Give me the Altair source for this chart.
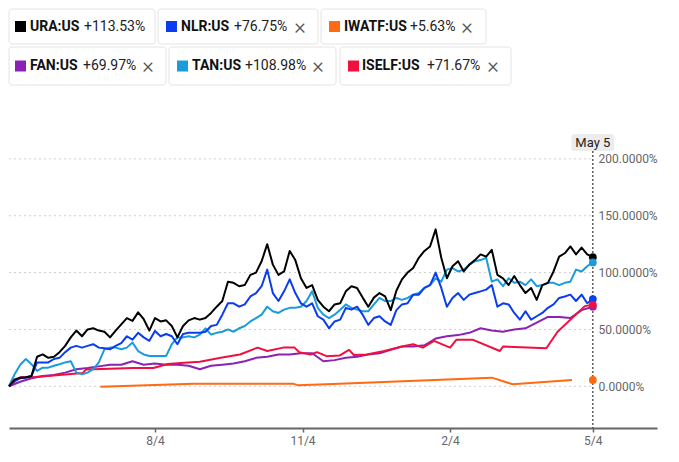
import altair as alt
import pandas as pd

START = "2020-05-05"
END = "2021-05-04"
AXIS_END = "2021-06-13"

# ---- data (percent change since start) ----
# sampling grids: every 3.5 days (volatile funds) and every 7 days (FAN)
half_week_dates = pd.date_range(START, periods=105, freq="84h").strftime("%Y-%m-%dT%H:%M:%SZ").tolist()
week_dates = pd.date_range(START, END, freq="7D").strftime("%Y-%m-%d").tolist()

ura = [0, 6, 7.6, 8, 9, 26, 28, 25, 26, 30, 35.5, 43, 49, 44, 50, 51, 49, 48, 43, 49,
       54.5, 60, 57.5, 65, 59, 49, 60, 57, 58, 53, 43, 53, 58, 60,
       58.6, 60, 64.5, 70, 75, 92, 91, 88, 89, 98, 100, 110, 125, 107, 98, 101, 119, 111,
       95, 86.5, 89, 76, 70, 66, 72, 73, 83.5, 88, 86.5, 78, 70, 78, 82, 79, 67, 84,
       94, 100, 104, 113, 119, 123, 138, 113, 95, 105.6, 110, 101, 107, 111, 116, 114, 120,
       98, 95, 89, 97, 89, 82, 86.5, 76, 89, 91, 101, 114, 117, 123, 116, 122, 116, 113.53]
nlr = [0, 4.7, 7, 7.6, 9, 21, 21, 21, 24, 25, 30, 34, 35.5, 34, 35.5, 37, 34, 33.4, 32.5, 35.5,
       38, 44, 41, 47, 43, 40, 48.7, 44, 46, 44, 37, 46, 47, 47,
       47, 48, 53, 54, 63, 73, 73, 70, 72, 79, 82, 88, 102.6, 82, 75, 83.5, 94, 82,
       73, 70, 73, 61.6, 58.6, 51, 57, 58.6, 69, 67.4, 70, 63, 54, 60, 61.6, 57, 54, 67,
       72, 73, 80.6, 80.6, 86.5, 89, 100, 86.5, 70, 77.7, 82, 76, 80.6, 82, 83.5, 85, 89,
       70, 73, 72, 64.5, 58.6, 66, 58.6, 61.6, 64.5, 69, 72, 77.7, 79, 80.6, 75, 80.6, 73, 76.75]
tan = [0, 10.6, 19, 24, 19.4, 13.5, 16.4, 16.4, 18, 19.4, 21, 22, 12, 10.6, 12, 15, 21, 32.5, 34, 34,
       32.5, 34, 38.4, 31, 28, 26.7, 26.7, 26.7, 26.7, 37, 43, 43, 44, 43,
       45.5, 51, 45.5, 47, 48, 50, 48, 51, 53, 57, 60, 63, 70, 66, 64.5, 67.4, 69, 69,
       70, 75, 83.5, 69, 63, 60, 63, 67.4, 72, 69, 67.4, 66, 66, 72, 77.7, 75, 75, 77.7,
       76, 77.7, 80.6, 82, 86.5, 89, 95, 92, 102.6, 104, 101, 102.6, 107, 110, 111, 113, 92,
       94, 88, 95, 91, 92, 89, 94, 88, 89, 91, 91, 89, 91, 92, 102.6, 101, 105.6, 108.98]
fan = [0, 4, 7, 9, 10, 12, 15, 16, 17.5, 19, 19, 22, 19, 20, 19, 19, 18, 15, 18, 19,
       20, 22, 25, 26, 28, 28, 29, 29, 22, 23, 25, 26, 28, 29, 32, 35, 35, 36, 42, 44,
       45, 47, 51, 49, 48, 50, 51, 56, 61, 61, 60, 67, 69.97]

iself_dates = ["2020-05-05", "2020-05-12", "2020-05-20", "2020-06-20", "2020-06-22",
               "2020-07-21", "2020-08-03", "2020-08-12", "2020-08-20", "2020-09-01",
               "2020-09-14", "2020-09-26", "2020-10-07", "2020-10-13", "2020-10-23",
               "2020-10-30", "2020-11-02", "2020-11-09", "2020-11-13", "2020-11-19",
               "2020-11-27", "2020-12-03", "2020-12-06", "2020-12-14", "2020-12-25",
               "2021-01-05", "2021-01-12", "2021-01-18", "2021-01-25", "2021-02-04",
               "2021-02-08", "2021-02-18", "2021-03-07", "2021-03-09", "2021-04-05",
               "2021-04-12", "2021-04-29", "2021-05-04"]
iself = [0, 8, 8, 11.7, 14.7, 16, 16, 19.6, 20.5, 21.5, 25, 28, 34, 31, 34, 34, 30, 28, 30,
         26.5, 27, 32, 27.5, 28, 31, 35, 37, 34, 40, 34, 41, 41, 31, 35, 33.5, 48, 70.5, 71.67]

iwatf_dates = ["2020-07-01", "2020-08-28", "2020-10-29", "2020-11-01", "2020-11-23",
               "2021-03-02", "2021-03-15", "2021-04-21"]
iwatf = [-0.5, 2.3, 2.3, 1.0, 2.0, 7.6, 1.8, 5.6]

series_names = ["URA:US", "NLR:US", "IWATF:US", "FAN:US", "TAN:US", "ISELF:US"]
series_colors = ["#000000", "#0a3cf0", "#ff6a13", "#8b22b4", "#1a9bdb", "#f0103f"]
last_values = [113.53, 76.75, 5.63, 69.97, 108.98, 71.67]
legend_changes = ["+113.53%", "+76.75%", "+5.63%", "+69.97%", "+108.98%", "+71.67%"]
legend_closable = [False, True, True, True, True, True]

grid_values = [0, 50, 100, 150, 200]
tick_dates = ["2020-08-04", "2020-11-04", "2021-02-04", "2021-05-04"]

# ---- tables ----
rows = []
for name, dates, vals in [("URA:US", half_week_dates, ura), ("NLR:US", half_week_dates, nlr),
                          ("TAN:US", half_week_dates, tan), ("FAN:US", week_dates, fan),
                          ("ISELF:US", iself_dates, iself), ("IWATF:US", iwatf_dates, iwatf)]:
    for d, v in zip(dates, vals):
        rows.append({"series": name, "date": d, "value": v})
df = pd.DataFrame(rows)

ends = pd.DataFrame({"series": series_names, "date": [END] * 6, "value": last_values})
grid = pd.DataFrame({"gy": grid_values, "gx": [START] * 5, "gx2": ["2021-05-03"] * 5})
marker = pd.DataFrame({"d": [END], "label": ["May 5"]})


def ms(s):
    return int(pd.Timestamp(s, tz="UTC").timestamp() * 1000)


W, H = 648, 299
FONT = "Roboto"

x_scale = alt.Scale(domain=[ms(START), ms(AXIS_END)])
y_scale = alt.Scale(domain=[-36.7, 226.3], nice=False, zero=False)
x_axis = alt.Axis(values=[ms(d) for d in tick_dates],
                  labelExpr="utcFormat(datum.value, '%-m/%-d')",
                  title=None, grid=False, domainColor="#666", domainWidth=2,
                  tickColor="#666", tickSize=4, tickWidth=1.5,
                  labelColor="#666", labelFont=FONT, labelFontSize=12, labelPadding=3)
y_axis = alt.Axis(orient="right", values=grid_values,
                  labelExpr="format(datum.value, '.4f') + '%'",
                  title=None, grid=False, domain=False, ticks=False, tickSize=0,
                  labelPadding=-59, labelAlign="left", labelBaseline="middle",
                  labelColor="#666", labelFont=FONT, labelFontSize=12)

gridlines = alt.Chart(grid).mark_rule(color="#cfcfcf", strokeDash=[2, 3], strokeWidth=1).encode(
    x=alt.X("gx:T", scale=x_scale, axis=x_axis),
    x2="gx2:T",
    y=alt.Y("gy:Q", scale=y_scale, axis=y_axis),
)

line_layers = []
color_of = dict(zip(series_names, series_colors))
for name in ["IWATF:US", "FAN:US", "ISELF:US", "TAN:US", "NLR:US", "URA:US"]:
    line_layers.append(
        alt.Chart(df).transform_filter(alt.datum.series == name)
        .mark_line(color=color_of[name], strokeWidth=2, strokeJoin="round")
        .encode(x=alt.X("date:T", scale=x_scale, axis=x_axis),
                y=alt.Y("value:Q", scale=y_scale, axis=y_axis))
    )

vline = alt.Chart(marker).mark_rule(color="#333", strokeDash=[2, 2], strokeWidth=1.2).encode(
    x=alt.X("d:T", scale=x_scale, axis=x_axis),
    y=alt.value(22), y2=alt.value(H),
)

dots = alt.Chart(ends).mark_circle(size=60, opacity=1).encode(
    x=alt.X("date:T", scale=x_scale, axis=x_axis),
    y=alt.Y("value:Q", scale=y_scale, axis=y_axis),
    color=alt.Color("series:N", scale=alt.Scale(domain=series_names, range=series_colors), legend=None),
)

label_box = alt.Chart(marker).mark_rect(width=43, height=17, cornerRadius=3, color="#ececec").encode(
    x=alt.X("d:T", scale=x_scale, axis=x_axis), y=alt.value(13.5))
label_text = alt.Chart(marker).mark_text(font=FONT, fontSize=13, color="#222",
                                         align="center", baseline="middle").encode(
    x=alt.X("d:T", scale=x_scale, axis=x_axis), y=alt.value(13.5), text="label:N")

main = alt.layer(gridlines, *line_layers, vline, dots, label_box, label_text).properties(width=W, height=H)

# ---- legend chips (layout in page pixels) ----
box_left = [6, 157, 320, 6, 168, 339]
box_right = [154, 317, 485, 165, 335, 510]
row_top = [1, 1, 1, 41, 41, 41]
row_bottom = [38, 38, 38, 79, 79, 79]
square_x = [14, 165, 328, 14, 176, 347]
ticker_x = [29, 180, 343, 29, 191, 361]
value_x = [83, 233, 409, 82, 244, 426]
close_x = [0, 299, 466, 147, 317, 492]

leg = pd.DataFrame({
    "ticker": series_names, "change": legend_changes, "color": series_colors,
    "closable": legend_closable,
    "bx0": [max(0, v - 8) for v in box_left], "bx1": [v - 8 for v in box_right],
    "by0": [v - 3 for v in row_top], "by1": [v - 3 for v in row_bottom],
    "sx0": [v - 8 for v in square_x], "sx1": [v - 8 + 11 for v in square_x],
    "tx": [v - 8 for v in ticker_x], "vx": [v - 8 for v in value_x], "cx": [v - 8 for v in close_x],
})
leg["by0"] = leg["by0"].clip(lower=0)
leg["cy"] = (leg["by0"] + leg["by1"]) / 2
leg["sy0"] = leg["cy"] - 5.5
leg["sy1"] = leg["cy"] + 5.5
leg["close"] = "×"

px = dict(scale=None, axis=None)
boxes = alt.Chart(leg).mark_rect(fill="white", stroke="#e4e4e4", strokeWidth=1, cornerRadius=3).encode(
    x=alt.X("bx0:Q", **px), x2="bx1:Q", y=alt.Y("by0:Q", **px), y2="by1:Q")
squares = alt.Chart(leg).mark_rect().encode(
    x=alt.X("sx0:Q", **px), x2="sx1:Q", y=alt.Y("sy0:Q", **px), y2="sy1:Q",
    color=alt.Color("color:N", scale=None))
tickers = alt.Chart(leg).mark_text(font=FONT, fontSize=14, fontWeight="bold", color="#111",
                                   align="left", baseline="middle").encode(
    x=alt.X("tx:Q", **px), y=alt.Y("cy:Q", **px), text="ticker:N")
changes = alt.Chart(leg).mark_text(font=FONT, fontSize=14, color="#222",
                                   align="left", baseline="middle").encode(
    x=alt.X("vx:Q", **px), y=alt.Y("cy:Q", **px), text="change:N")
closes = alt.Chart(leg).transform_filter(alt.datum.closable).mark_text(
    font=FONT, fontSize=22, fontWeight=300, color="#555", align="center", baseline="middle").encode(
    x=alt.X("cx:Q", **px), y=alt.Y("cy:Q", **px), text="close:N")

legend = alt.layer(boxes, squares, tickers, changes, closes).properties(width=W, height=78)

chart = (alt.vconcat(legend, main, spacing=42, padding=0)
         .configure(font=FONT)
         .configure_view(stroke=None))

chart.save("out.html", embed_options={"renderer": "svg", "actions": False})
